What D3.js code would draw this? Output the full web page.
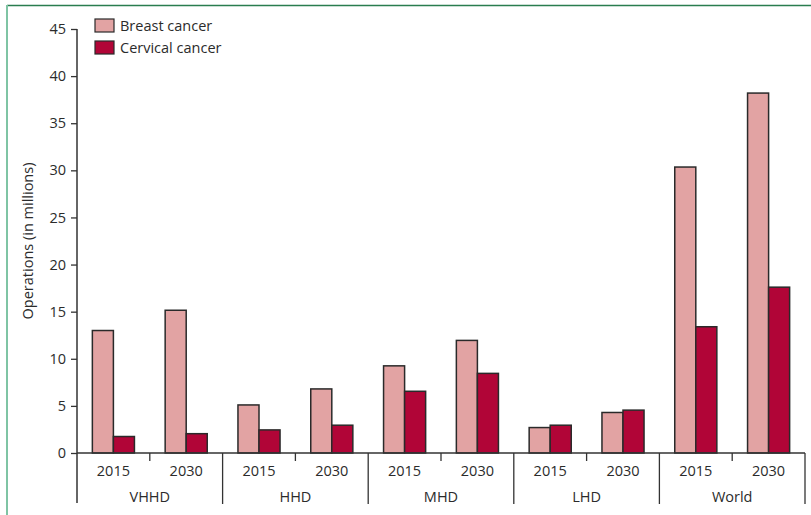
<!DOCTYPE html>
<html>
<head>
<meta charset="utf-8">
<script src="https://cdn.jsdelivr.net/npm/d3@7"></script>
<style>
  body { margin: 0; background: #fff; }
  svg { display: block; font-family: "Open Sans", "Noto Sans", sans-serif; }
</style>
</head>
<body>
<svg id="chart" width="811" height="515"></svg>
<script>
// data
var regions = ["VHHD", "HHD", "MHD", "LHD", "World"]
var years = ["2015", "2030"]
var seriesNames = ["Breast cancer", "Cervical cancer"]
// values per region, order 2015 then 2030
var breast   = [13.0, 15.15, 5.1, 6.8, 9.25, 11.95, 2.7, 4.3, 30.35, 38.2]
var cervical = [1.75, 2.05, 2.45, 2.95, 6.55, 8.45, 2.95, 4.55, 13.4, 17.6]
var yTicks = [0, 5, 10, 15, 20, 25, 30, 35, 40, 45]

var cols = ["#e2a3a3", "#b10537"]
var fs = "14.5px"

var svg = d3.select("#chart")

// frame lines
svg.append("line").attr("x1", 7).attr("x2", 811).attr("y1", 5.5).attr("y2", 5.5)
    .style("stroke", "#2a7d4f").style("stroke-width", 1.5)
svg.append("line").attr("x1", 7).attr("x2", 7).attr("y1", 5).attr("y2", 515)
    .style("stroke", "#7fc4a4").style("stroke-width", 2)

var xLeft = 77, xRight = 805, yTop = 29, yBase = 453

var y = d3.scaleLinear().domain([0, 45]).range([yBase, yTop])
var xGroup = d3.scaleBand().domain(regions).range([xLeft, xRight])
var xYear = d3.scaleBand().domain(years).range([0, xGroup.bandwidth()])
var xSer = d3.scaleBand().domain(seriesNames).range([0, xYear.bandwidth()]).paddingOuter(0.73)

// build rows
var rows = []
regions.forEach(function(r, i) {
    years.forEach(function(yr, j) {
        rows.push({region: r, year: yr, vals: [breast[i * 2 + j], cervical[i * 2 + j]]})
    })
})

// bars
var g = svg.append("g")
rows.forEach(function(d) {
    var x0 = xGroup(d.region) + xYear(d.year)
    d.vals.forEach(function(v, k) {
        g.append("rect")
            .attr("x", x0 + xSer(seriesNames[k]))
            .attr("y", y(v))
            .attr("width", xSer.bandwidth())
            .attr("height", yBase - y(v))
            .style("fill", cols[k])
            .style("stroke", "#2a2a2a")
            .style("stroke-width", 1.5)
    })
})

// y axis
var yAxis = svg.append("g").attr("transform", "translate(" + xLeft + ",0)")
    .call(d3.axisLeft(y).tickValues(yTicks).tickSize(6).tickPadding(5))
yAxis.select(".domain").remove()
yAxis.selectAll(".tick line").style("stroke", "#333").style("stroke-width", 1.3)
yAxis.selectAll("text").style("font-size", fs).style("fill", "#2b2b2b")
    .style("font-family", "\"Open Sans\", sans-serif")
svg.append("line").attr("x1", xLeft).attr("x2", xLeft).attr("y1", yTop).attr("y2", 503)
    .style("stroke", "#333").style("stroke-width", 1.5)

// baseline
svg.append("line").attr("x1", xLeft).attr("x2", xRight).attr("y1", yBase).attr("y2", yBase)
    .style("stroke", "#333").style("stroke-width", 1.5)

// group separators and labels
regions.forEach(function(r) {
    var xe = xGroup(r) + xGroup.bandwidth()
    svg.append("line").attr("x1", xe).attr("x2", xe).attr("y1", yBase).attr("y2", 504)
        .style("stroke", "#333").style("stroke-width", 1.3)
    var xm = xGroup(r) + xYear.bandwidth()
    svg.append("line").attr("x1", xm).attr("x2", xm).attr("y1", yBase).attr("y2", 461)
        .style("stroke", "#333").style("stroke-width", 1.3)
    svg.append("text").attr("x", xGroup(r) + xGroup.bandwidth() / 2).attr("y", 502)
        .attr("text-anchor", "middle").style("font-size", fs).style("fill", "#2b2b2b").text(r)
    years.forEach(function(yr) {
        svg.append("text").attr("x", xGroup(r) + xYear(yr) + xYear.bandwidth() / 2).attr("y", 476)
            .attr("text-anchor", "middle").style("font-size", fs).style("fill", "#2b2b2b").text(yr)
    })
})

// y title
svg.append("text")
    .attr("transform", "translate(33," + (yTop + yBase) / 2 + ") rotate(-90)")
    .attr("text-anchor", "middle")
    .style("font-size", fs).style("fill", "#2b2b2b")
    .text("Operations (in millions)")

// legend
seriesNames.forEach(function(s, k) {
    svg.append("rect").attr("x", 95).attr("y", 19 + k * 22).attr("width", 19).attr("height", 13)
        .style("fill", cols[k]).style("stroke", "#2a2a2a").style("stroke-width", 1.2)
    svg.append("text").attr("x", 120).attr("y", 31 + k * 22)
        .style("font-size", fs).style("fill", "#2b2b2b").text(s)
})
</script>
</body>
</html>
